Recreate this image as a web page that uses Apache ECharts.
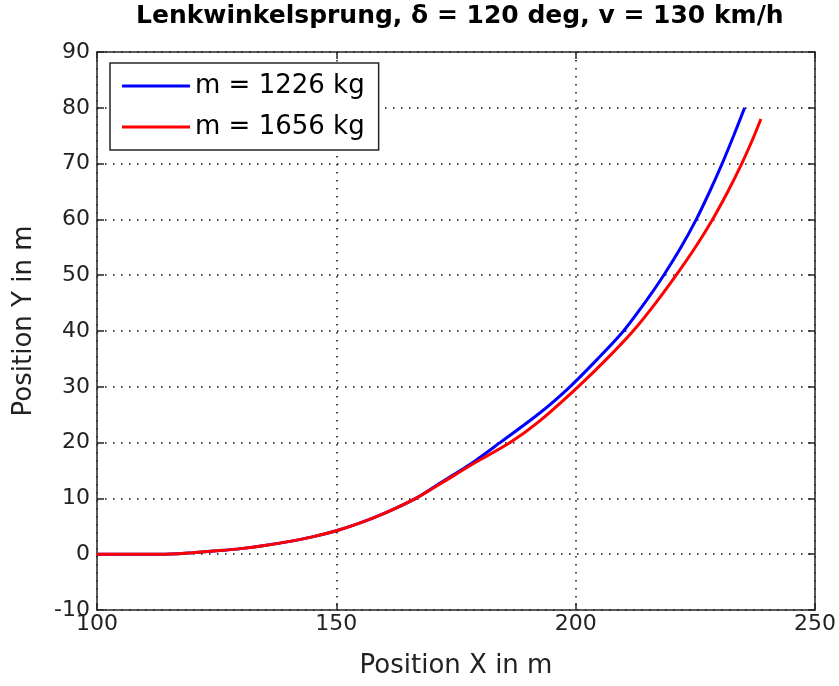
<!DOCTYPE html>
<html>
<head>
<meta charset="UTF-8">
<title>Lenkwinkelsprung</title>
<script src="https://cdn.jsdelivr.net/npm/echarts@6/dist/echarts.min.js"></script>
<style>
  body { margin: 0; padding: 0; background: #fff; }
  #main { width: 839px; height: 686px; }
</style>
</head>
<body>
<div id="main"></div>
<script>
// values (x, y in m)
var xBlue = [100, 112, 117, 120, 125, 130, 135, 140, 145, 150, 155, 160, 166.6, 171.6, 178.6, 184.2, 192.5, 198.8, 204.6, 210, 214.4, 218.4, 222, 225.2, 228, 230.6, 233, 235.3];
var yBlue = [0, 0, 0.1, 0.25, 0.6, 1.0, 1.55, 2.25, 3.1, 4.2, 5.6, 7.3, 10, 12.7, 16.5, 20, 25.3, 30, 35, 40, 45, 50, 55, 60, 65, 70, 75, 80];
var xRed = [100, 112, 117, 120, 125, 130, 135, 140, 145, 150, 155, 160, 166.6, 171.6, 178.6, 186.3, 192.5, 200.5, 206.5, 212, 216.7, 221, 225, 228.6, 231.8, 234.7, 236.8, 238.7];
var yRed = [0, 0, 0.1, 0.25, 0.6, 1.0, 1.55, 2.25, 3.1, 4.2, 5.6, 7.3, 10, 12.55, 16.2, 20, 23.9, 30, 35, 40, 45, 50, 55, 60, 65, 70, 74, 78];
var seriesNames = ['m = 1226 kg', 'm = 1656 kg'];
var xTicks = { min: 100, max: 250, interval: 50 };
var yTicks = { min: -10, max: 90, interval: 10 };

function pairs(xs, ys) {
    var out = [];
    for (var i = 0; i < xs.length; i++) out.push([xs[i], ys[i]]);
    return out;
}

var font = 'DejaVu Sans';
var axisColor = '#262626';
var dots = { show: true, lineStyle: { color: '#111', width: 1.5, type: [1.5, 6.5] } };

function boxAxis(pos, t) {
    return {
        type: 'value', position: pos, min: t.min, max: t.max, interval: t.interval,
        axisLine: { show: true, onZero: false, lineStyle: { color: axisColor, width: 1.5 } },
        axisTick: { show: true, inside: true, length: 7, lineStyle: { color: axisColor, width: 1.5 } },
        axisLabel: { show: false }, splitLine: { show: false }
    };
}

var chart = echarts.init(document.getElementById('main'));
chart.setOption({
    backgroundColor: '#fff',
    animation: false,
    title: {
        text: 'Lenkwinkelsprung, \u03b4 = 120 deg, v = 130 km/h',
        left: 136, top: 4, padding: 0,
        textStyle: { fontFamily: font, fontWeight: 'bold', fontSize: 25, color: '#000' }
    },
    grid: { left: 97, right: 24, top: 52, bottom: 76 },
    legend: {
        orient: 'vertical', left: 110, top: 63,
        icon: 'rect', itemWidth: 68, itemHeight: 3, itemGap: 15,
        padding: [10, 14, 10, 12],
        borderColor: axisColor, borderWidth: 1.5, backgroundColor: '#fff',
        textStyle: { fontFamily: font, fontSize: 26, color: '#000' },
        data: seriesNames
    },
    xAxis: [{
        type: 'value', min: xTicks.min, max: xTicks.max, interval: xTicks.interval,
        name: 'Position X in m', nameLocation: 'middle', nameGap: 43,
        nameTextStyle: { fontFamily: font, fontSize: 26, color: '#222' },
        axisLine: { show: true, onZero: false, lineStyle: { color: axisColor, width: 1.5 } },
        axisTick: { show: true, inside: true, length: 7, lineStyle: { color: axisColor, width: 1.5 } },
        axisLabel: { fontFamily: font, fontSize: 22, color: '#222', margin: 3 },
        splitLine: dots
    }, boxAxis('top', xTicks)],
    yAxis: [{
        type: 'value', min: yTicks.min, max: yTicks.max, interval: yTicks.interval,
        name: 'Position Y in m', nameLocation: 'middle', nameGap: 60,
        nameTextStyle: { fontFamily: font, fontSize: 26, color: '#222', padding: [0, 0, 0, 20] },
        axisLine: { show: true, onZero: false, lineStyle: { color: axisColor, width: 1.5 } },
        axisTick: { show: true, inside: true, length: 7, lineStyle: { color: axisColor, width: 1.5 } },
        axisLabel: { fontFamily: font, fontSize: 22, color: '#222', margin: 7 },
        splitLine: dots
    }, boxAxis('right', yTicks)],
    series: [{
        name: seriesNames[0], type: 'line', data: pairs(xBlue, yBlue),
        showSymbol: false, symbol: 'none', smooth: 0.3,
        lineStyle: { color: '#0000ff', width: 3 }, itemStyle: { color: '#0000ff' }
    }, {
        name: seriesNames[1], type: 'line', data: pairs(xRed, yRed),
        showSymbol: false, symbol: 'none', smooth: 0.3,
        lineStyle: { color: '#ff0000', width: 3 }, itemStyle: { color: '#ff0000' }
    }]
});
</script>
</body>
</html>
